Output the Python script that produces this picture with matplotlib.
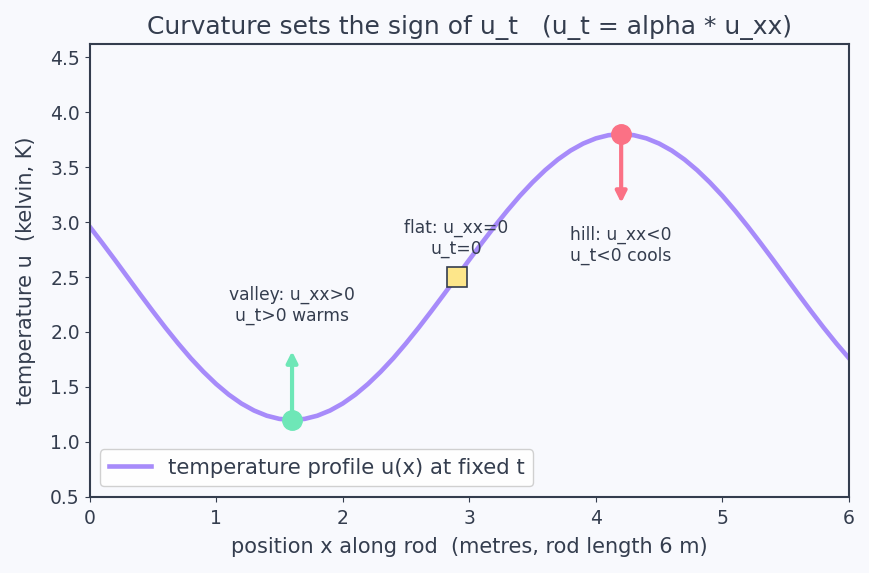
import matplotlib.pyplot as plt

# temperature profile (x in m, u in K), every 0.1 m
x_pos = [round(0.1 * i, 1) for i in range(61)]
u_vals = [2.961, 2.811, 2.657, 2.500, 2.343, 2.189, 2.039, 1.896, 1.761, 1.638,
          1.527, 1.430, 1.349, 1.285, 1.238, 1.209, 1.200, 1.209, 1.238, 1.285,
          1.349, 1.430, 1.527, 1.638, 1.761, 1.896, 2.039, 2.189, 2.343, 2.500,
          2.657, 2.811, 2.961, 3.104, 3.239, 3.362, 3.473, 3.570, 3.651, 3.715,
          3.762, 3.791, 3.800, 3.791, 3.762, 3.715, 3.651, 3.570, 3.473, 3.362,
          3.239, 3.104, 2.961, 2.811, 2.657, 2.500, 2.343, 2.189, 2.039, 1.896,
          1.761]

valley = (1.6, 1.2)
flat = (2.9, 2.5)
hill = (4.2, 3.8)
valley_arrow_end = 1.85
hill_arrow_end = 3.15

bg = '#f8f9fd'
ink = '#343d4e'

plt.rcParams['font.family'] = 'DejaVu Sans'
fig, ax = plt.subplots(figsize=(8.69, 5.73), dpi=100)
fig.patch.set_facecolor(bg)
ax.set_facecolor(bg)

ax.plot(x_pos, u_vals, color='#a78bfa', lw=3.3, solid_joinstyle='round',
        label='temperature profile u(x) at fixed t', zorder=2)

# valley: warms
ax.annotate('', xy=(valley[0], valley_arrow_end), xytext=valley,
            arrowprops=dict(arrowstyle='-|>', color='#6ee7b7', lw=3, mutation_scale=16), zorder=3)
ax.plot(*valley, 'o', color='#6ee7b7', ms=14, zorder=4)
ax.text(valley[0], 2.24, 'valley: u_xx>0\nu_t>0 warms', ha='center', va='center',
        fontsize=12.3, color=ink)

# hill: cools
ax.annotate('', xy=(hill[0], hill_arrow_end), xytext=hill,
            arrowprops=dict(arrowstyle='-|>', color='#fb7185', lw=3, mutation_scale=16), zorder=3)
ax.plot(*hill, 'o', color='#fb7185', ms=14, zorder=4)
ax.text(hill[0], 2.79, 'hill: u_xx<0\nu_t<0 cools', ha='center', va='center',
        fontsize=12.3, color=ink)

# inflection point
ax.plot(*flat, 's', color='#fde68a', mec=ink, mew=1.2, ms=14, zorder=4)
ax.text(flat[0], 2.85, 'flat: u_xx=0\nu_t=0', ha='center', va='center',
        fontsize=12.3, color=ink)

ax.set_xlim(0, 6)
ax.set_ylim(0.5, 4.62)
ax.set_title('Curvature sets the sign of u_t   (u_t = alpha * u_xx)', fontsize=18, color=ink, pad=7)
ax.set_xlabel('position x along rod  (metres, rod length 6 m)', fontsize=15, color=ink, labelpad=7)
ax.set_ylabel('temperature u  (kelvin, K)', fontsize=15, color=ink, labelpad=10)
ax.tick_params(colors=ink, labelsize=13.5)
ax.tick_params(axis='x', pad=5)
for s in ax.spines.values():
    s.set_color(ink)
    s.set_linewidth(1.5)

leg = ax.legend(loc='lower left', fontsize=15.2, facecolor='white', edgecolor='#cccccc',
                framealpha=0.9)
for t in leg.get_texts():
    t.set_color(ink)

plt.subplots_adjust(left=0.103, right=0.977, top=0.923, bottom=0.133)
plt.savefig('out.png', facecolor=bg)
